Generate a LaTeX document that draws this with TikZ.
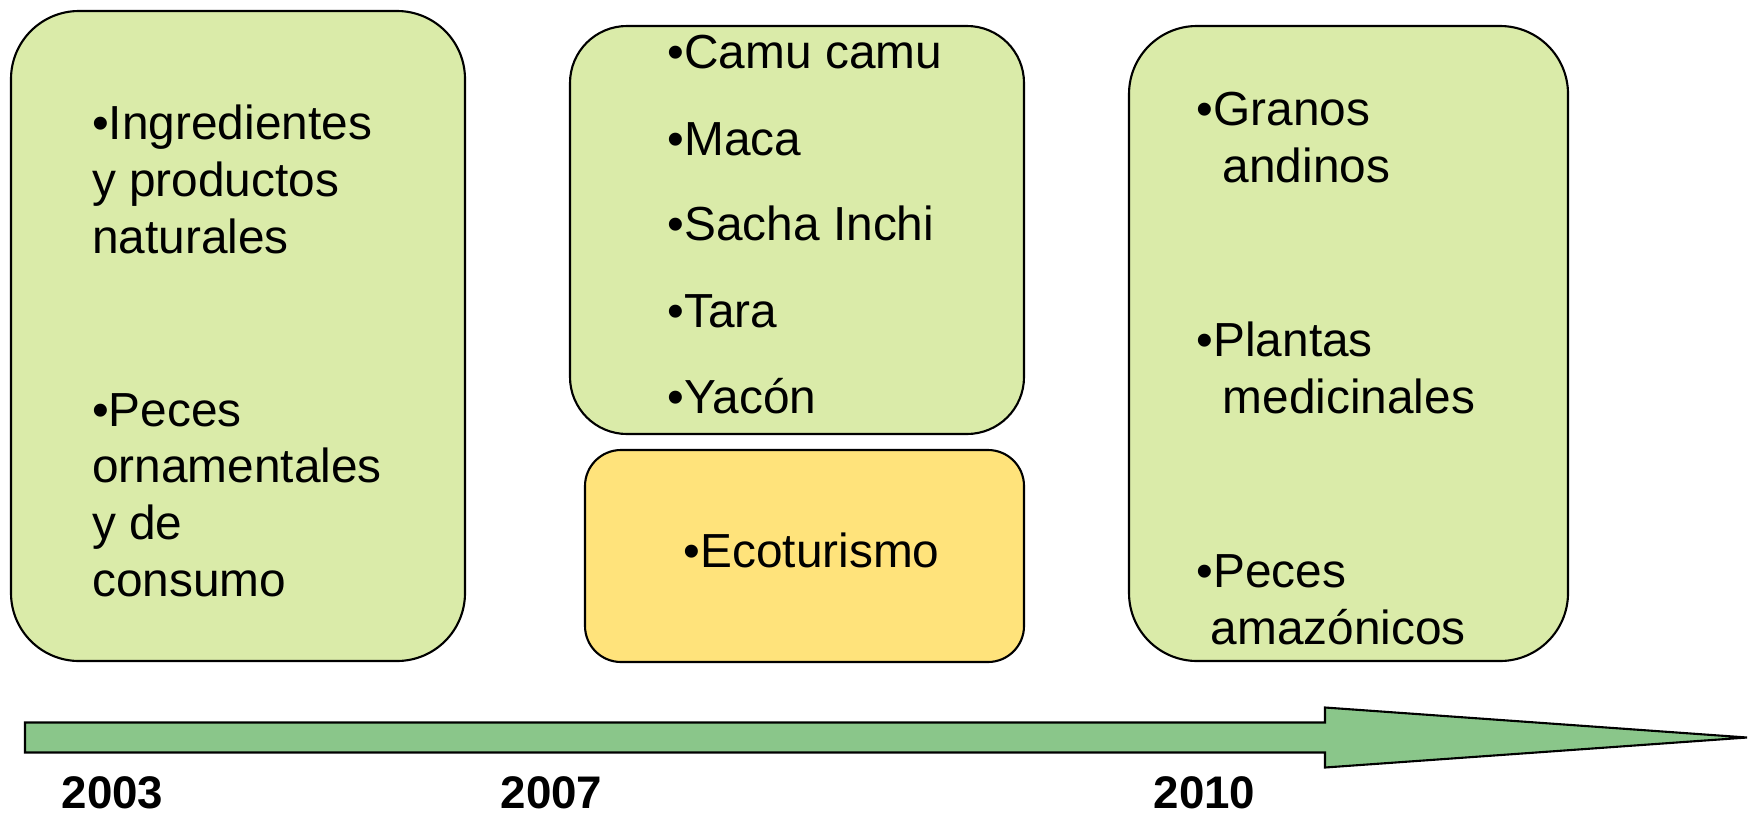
\documentclass[tikz,border=0pt]{standalone}
\usepackage{fontspec}
\setmainfont{Liberation Sans}
\usetikzlibrary{positioning}
\definecolor{boxgreen}{HTML}{DAEBA9}
\definecolor{boxyellow}{HTML}{FFE37B}
\definecolor{arrowgreen}{HTML}{8AC68A}

\begin{document}
\begin{tikzpicture}[
    box/.style={draw, line width=0.6pt, fill=boxgreen, inner sep=0pt},
    item/.style={anchor=base west, inner sep=0pt, align=left, font=\fontsize{13.6pt}{16.1pt}\selectfont},
    year/.style={anchor=base west, inner sep=0pt, font=\fontsize{13pt}{15pt}\selectfont\bfseries}]
    \useasboundingbox (0,0) rectangle (17.5,8.13);

    \node[box, rounded corners=0.68cm, minimum width=4.54cm, minimum height=6.5cm] (b1) at (2.38,4.77) {};
    \node[box, rounded corners=0.57cm, minimum width=4.54cm, minimum height=4.08cm] (b2) at (7.97,5.83) {};
    \node[box, rounded corners=0.36cm, minimum width=4.39cm, minimum height=2.12cm, fill=boxyellow] (b3) at (8.045,2.57) {};
    \node[box, rounded corners=0.68cm, minimum width=4.39cm, minimum height=6.35cm] (b4) at (13.485,4.695) {};

    \node[item] (ingr) at (0.915,5.60) {•Ingredientes\\y productos\\naturales};
    \node[item] (peces) at (0.915,2.17) {•Peces\\ornamentales\\y de\\consumo};

    \node[item] (camu) at (6.67,7.45) {•Camu camu};
    \node[item] (maca) at (6.67,6.58) {•Maca};
    \node[item] (sacha) at (6.67,5.73) {•Sacha Inchi};
    \node[item] (tara) at (6.67,4.86) {•Tara};
    \node[item] (yacon) at (6.67,4.00) {•Yacón};

    \node[item] (eco) at (6.83,2.46) {•Ecoturismo};

    \node[item] (granos) at (11.96,6.31) {•Granos\\\hspace{0.26cm}andinos};
    \node[item] (plantas) at (11.96,4.00) {•Plantas\\\hspace{0.26cm}medicinales};
    \node[item] (amaz) at (11.96,1.69) {•Peces\\\hspace{0.14cm}amazónicos};

    \coordinate (tail) at (0.25,0.755);
    \coordinate (neck) at (13.25,0.755);
    \coordinate (tip) at (17.47,0.755);
    \draw[line width=0.6pt, fill=arrowgreen]
        ([yshift=0.15cm]tail) -- ([yshift=0.15cm]neck) -- ([yshift=0.3cm]neck) -- (tip)
        -- ([yshift=-0.3cm]neck) -- ([yshift=-0.15cm]neck) -- ([yshift=-0.15cm]tail) -- cycle;

    \node[year] (y2003) at (0.61,0.05) {2003};
    \node[year] (y2007) at (5.00,0.05) {2007};
    \node[year] (y2010) at (11.53,0.05) {2010};
\end{tikzpicture}
\end{document}
